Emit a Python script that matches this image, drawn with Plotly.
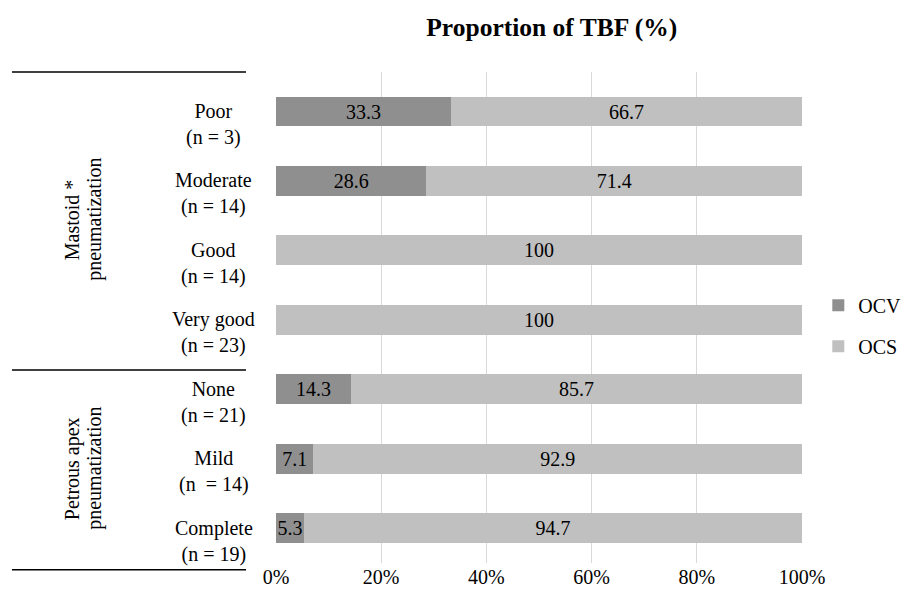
import plotly.graph_objects as go

categories = ["Poor", "Moderate", "Good", "Very good", "None", "Mild", "Complete"]
cat_labels = ["Poor<br>(n = 3)", "Moderate<br>(n = 14)", "Good<br>(n = 14)", "Very good<br>(n = 23)",
              "None<br>(n = 21)", "Mild<br>(n  = 14)", "Complete<br>(n = 19)"]
ocv = [33.3, 28.6, 0, 0, 14.3, 7.1, 5.3]
ocs = [66.7, 71.4, 100, 100, 85.7, 92.9, 94.7]
x_ticks = [0, 20, 40, 60, 80, 100]
x_tick_text = ["0%", "20%", "40%", "60%", "80%", "100%"]
group_line1 = ["Mastoid *", "Petrous apex"]
group_line2 = ["pneumatization", "pneumatization"]

FONT = "Liberation Serif, Times New Roman, serif"

def fmt(v):
    if v == 0:
        return ""
    return ("%g" % v)

fig = go.Figure()
fig.add_trace(go.Bar(
    y=categories, x=ocv, orientation="h", name="OCV", legendgroup="a",
    marker=dict(color="#8f8f8f", line=dict(width=0)),
    text=[fmt(v) for v in ocv], textposition="inside", insidetextanchor="middle",
    constraintext="none", textangle=0, textfont=dict(color="black", size=20, family=FONT),
    width=0.43,
))
fig.add_trace(go.Bar(
    y=categories, x=ocs, orientation="h", name="OCS", legendgroup="b",
    marker=dict(color="#c0c0c0", line=dict(width=0)),
    text=[fmt(v) for v in ocs], textposition="inside", insidetextanchor="middle",
    constraintext="none", textangle=0, textfont=dict(color="black", size=20, family=FONT),
    width=0.43,
))

annotations = []
for c, lab in zip(categories, cat_labels):
    annotations.append(dict(x=-0.118, y=c, xref="paper", yref="y", text=lab, yshift=-13,
                            showarrow=False, align="center", xanchor="center", yanchor="middle",
                            font=dict(size=20, family=FONT, color="black")))
for yc, l1, l2 in zip([0.70, 0.193], group_line1, group_line2):
    annotations.append(dict(x=-0.388, y=yc, xref="paper", yref="paper", text=l1,
                            showarrow=False, textangle=-90, xanchor="center", yanchor="middle",
                            font=dict(size=20, family=FONT, color="black")))
    annotations.append(dict(x=-0.345, y=yc, xref="paper", yref="paper", text=l2,
                            showarrow=False, textangle=-90, xanchor="center", yanchor="middle",
                            font=dict(size=20, family=FONT, color="black")))

shapes = []
for yp in [1.0, 0.393, -0.014]:
    shapes.append(dict(type="line", xref="paper", yref="paper", x0=-0.502, x1=-0.057,
                       y0=yp, y1=yp, line=dict(color="black", width=1.5)))

fig.update_layout(
    width=909, height=598,
    barmode="stack",
    paper_bgcolor="white", plot_bgcolor="white",
    margin=dict(l=276, r=107, t=72, b=35, autoexpand=False),
    title=dict(text="<b>Proportion of TBF (%)</b>", x=0.607, xanchor="center", y=0.955, yanchor="middle",
               font=dict(size=25.5, family=FONT, color="black")),
    xaxis=dict(range=[0, 100], tickvals=x_ticks, ticktext=x_tick_text, showgrid=True,
               gridcolor="#d9d9d9", gridwidth=1.3, zeroline=False, showline=False,
               tickfont=dict(size=20, family=FONT, color="black"), ticks=""),
    yaxis=dict(categoryorder="array", categoryarray=categories, autorange="reversed",
               showticklabels=False, showgrid=False, zeroline=False, showline=False),
    legend=dict(x=1.031, y=0.483, xanchor="left", yanchor="middle",
                font=dict(size=20, family=FONT, color="black"), traceorder="grouped",
                itemwidth=30, tracegroupgap=12),
    annotations=annotations,
    shapes=shapes,
    showlegend=True,
    bargap=0.57,
)
fig.write_html("out.html", post_script="document.body.style.margin='0';",
               config={"displayModeBar": False})
